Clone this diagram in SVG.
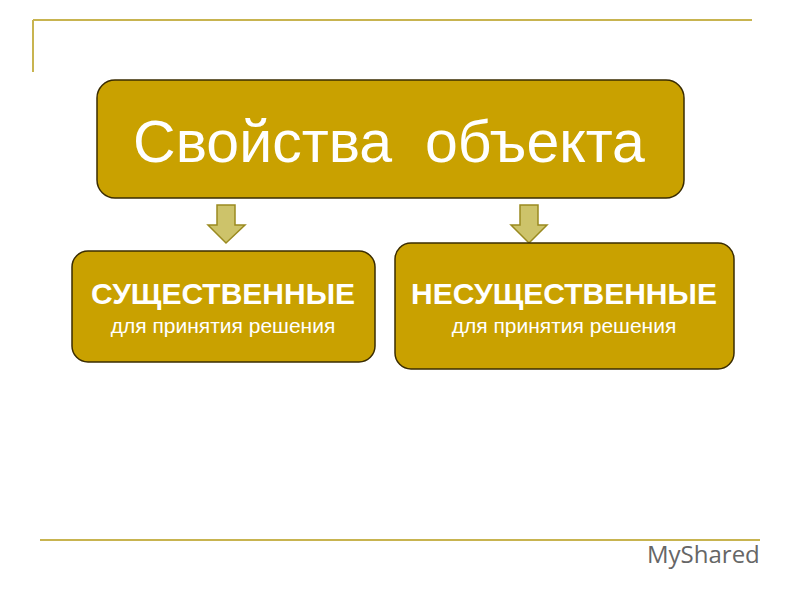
<svg xmlns="http://www.w3.org/2000/svg" width="800" height="600" viewBox="0 0 800 600">
<style>
.box{fill:#C9A100;stroke:#3a2c00;stroke-width:1.5}
.arr{fill:#CDC36A;stroke:#9A8A20;stroke-width:1.5}
.t{font-family:"Liberation Sans",Arial,sans-serif;fill:#fff;text-anchor:middle}
.line{stroke:#C8B450;stroke-width:2}
</style>
<rect width="800" height="600" fill="#fff"/>
<line class="line" x1="33" y1="20" x2="752" y2="20"/>
<line class="line" x1="33" y1="20" x2="33" y2="72"/>
<line class="line" x1="40" y1="540" x2="760" y2="540"/>
<g id="top"><rect class="box" x="97" y="80" width="587" height="118" rx="18"/>
<text class="t" x="389" y="162" font-size="59" xml:space="preserve">Свойства  объекта</text></g>
<g id="connectors">
<polygon class="arr" points="217,205 235,205 235,225 245,225 226,243 208,225 217,225"/>
<polygon class="arr" points="520,205 538,205 538,225 547,225 529,243 511,225 520,225"/>
</g>
<g id="left"><rect class="box" x="72" y="251" width="303" height="111" rx="16"/>
<text class="t" x="223" y="304" font-size="30" font-weight="bold">СУЩЕСТВЕННЫЕ</text>
<text class="t" x="223" y="333" font-size="21">для принятия решения</text></g>
<g id="right"><rect class="box" x="395" y="243" width="339" height="126" rx="16"/>
<text class="t" x="564" y="304" font-size="30" font-weight="bold">НЕСУЩЕСТВЕННЫЕ</text>
<text class="t" x="564" y="333" font-size="21">для принятия решения</text></g>
<text x="647" y="563" font-family="'Open Sans','Liberation Sans',sans-serif" font-size="24" fill="#666">MyShared</text>
</svg>
